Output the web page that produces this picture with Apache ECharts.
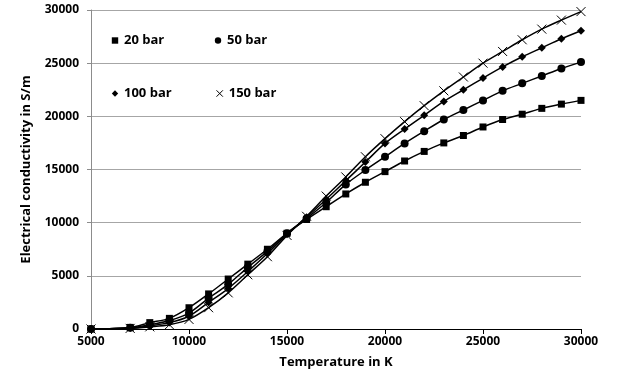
<!DOCTYPE html>
<html>
<head>
<meta charset="utf-8">
<script src="https://cdn.jsdelivr.net/npm/echarts@6/dist/echarts.min.js"></script>
<style>
  html, body { margin: 0; padding: 0; background: #fff; }
  #chart { width: 617px; height: 385px; }
</style>
</head>
<body>
<div id="chart"></div>
<script>
// temperatures (K)
const temps = [5000, 7000, 8000, 9000, 10000, 11000, 12000, 13000, 14000, 15000,
  16000, 17000, 18000, 19000, 20000, 21000, 22000, 23000, 24000, 25000,
  26000, 27000, 28000, 29000, 30000];

// conductivity (S/m) per pressure
const bar20 = [0, 150, 600, 1000, 2000, 3300, 4700, 6100, 7500, 9000,
  10300, 11500, 12700, 13800, 14800, 15800, 16700, 17500, 18200, 19000,
  19700, 20200, 20750, 21150, 21500];
const bar50 = [0, 120, 400, 800, 1500, 2900, 4200, 5800, 7300, 9000,
  10400, 11900, 13600, 14950, 16200, 17450, 18600, 19700, 20600, 21500,
  22400, 23100, 23800, 24500, 25100];
const bar100 = [0, 90, 300, 600, 1200, 2500, 3800, 5400, 7100, 8900,
  10500, 12200, 13950, 15700, 17450, 18800, 20100, 21400, 22500, 23600,
  24650, 25600, 26450, 27300, 28050];
const bar150 = [0, 60, 200, 400, 900, 2000, 3400, 5100, 6800, 8800,
  10600, 12500, 14300, 16200, 17900, 19500, 21000, 22400, 23700, 25000,
  26100, 27200, 28200, 29050, 29850];

const seriesNames = ['20 bar', '50 bar', '100 bar', '150 bar'];
const xTicks = { min: 5000, max: 30000, interval: 5000 };
const yTicks = { min: 0, max: 30000, interval: 5000 };

const FONT = '"Open Sans", "Noto Sans", sans-serif';
const crossPath = 'path://M0,0L10,10M10,0L0,10';
const crossStyle = { color: 'none', borderColor: '#000', borderWidth: 1 };

const pairs = (ys) => temps.map((t, i) => [t, ys[i]]);

const makeSeries = (name, ys, symbol, size, extra) => ({
  name,
  type: 'line',
  data: pairs(ys),
  smooth: 0.3,
  symbol,
  symbolSize: size,
  showAllSymbol: true,
  lineStyle: { color: '#000', width: 1.5 },
  itemStyle: Object.assign({ color: '#000' }, extra || {}),
  emphasis: { disabled: true },
  animation: false,
});

// one legend box per entry so the 2x2 grid can be placed exactly
const legendAt = (item, left, top) => ({
  data: [item],
  left,
  top,
  itemWidth: 8,
  itemHeight: 8,
  itemGap: 4,
  lineStyle: { opacity: 0, width: 0 },
  textStyle: { fontFamily: FONT, fontWeight: 'bold', fontSize: 13, color: '#000' },
  selectedMode: false,
});

const chart = echarts.init(document.getElementById('chart'), null, { renderer: 'canvas' });

chart.setOption({
  animation: false,
  backgroundColor: '#fff',
  legend: [
    legendAt('20 bar', 106, 29),
    legendAt('50 bar', 209, 29),
    legendAt('100 bar', 106, 82),
    legendAt({ name: '150 bar', itemStyle: crossStyle }, 209, 82),
  ],
  grid: { left: 91, right: 36, top: 10, bottom: 56, containLabel: false, outerBoundsMode: 'none' },
  xAxis: {
    type: 'value',
    min: xTicks.min,
    max: xTicks.max,
    interval: xTicks.interval,
    name: 'Temperature in K',
    nameLocation: 'middle',
    nameGap: 27,
    nameTextStyle: { fontFamily: FONT, fontWeight: 'bold', fontSize: 13, color: '#000' },
    axisLine: { onZero: false, lineStyle: { color: '#000', width: 1 } },
    axisTick: { show: true, inside: false, length: 5, lineStyle: { color: '#000' } },
    axisLabel: { fontFamily: FONT, fontWeight: 'bold', fontSize: 12, color: '#000', margin: 7,
      formatter: (v) => String(v) },
    splitLine: { show: false },
  },
  yAxis: {
    type: 'value',
    min: yTicks.min,
    max: yTicks.max,
    interval: yTicks.interval,
    name: 'Electrical conductivity in S/m',
    nameLocation: 'middle',
    nameGap: 58,
    nameTextStyle: { fontFamily: FONT, fontWeight: 'bold', fontSize: 13, color: '#000' },
    axisLine: { show: true, lineStyle: { color: '#8c8c8c', width: 1 } },
    axisTick: { show: true, inside: false, length: 4, lineStyle: { color: '#8c8c8c' } },
    axisLabel: { fontFamily: FONT, fontWeight: 'bold', fontSize: 12, color: '#000', margin: 12,
      formatter: (v) => String(v) },
    splitLine: { show: true, lineStyle: { color: '#a6a6a6', width: 1 } },
  },
  series: [
    makeSeries(seriesNames[0], bar20, 'rect', 7),
    makeSeries(seriesNames[1], bar50, 'circle', 8),
    makeSeries(seriesNames[2], bar100, 'diamond', 8),
    makeSeries(seriesNames[3], bar150, crossPath, 9, crossStyle),
  ],
});
</script>
</body>
</html>
